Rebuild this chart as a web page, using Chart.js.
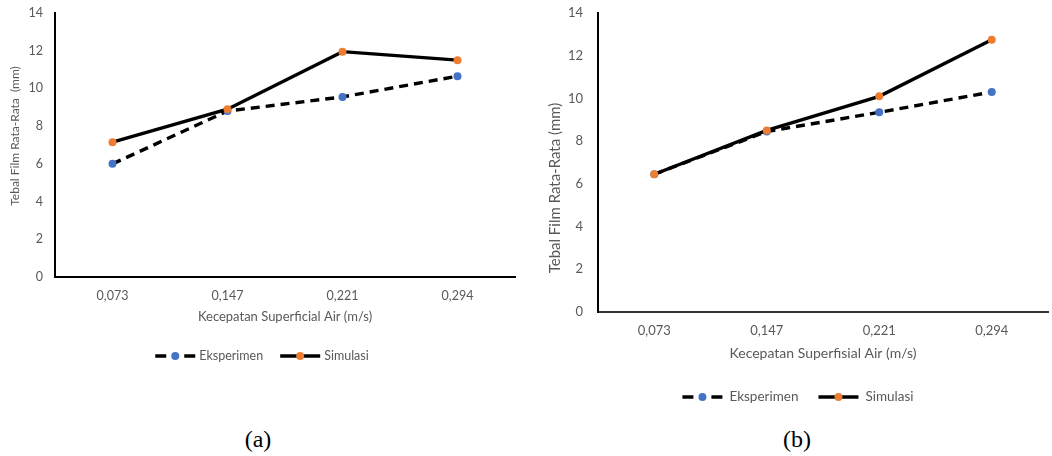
<!DOCTYPE html>
<html>
<head>
<meta charset="utf-8">
<script src="https://cdn.jsdelivr.net/npm/chart.js@4"></script>
<style>
  html, body { margin: 0; padding: 0; background: #fff; width: 1052px; height: 456px; overflow: hidden; }
  .box { position: absolute; }
  #wa { left: 0; top: 0; width: 530px; height: 380px; }
  #wb { left: 540px; top: 0; width: 512px; height: 420px; }
  .cap { position: absolute; font-family: "Liberation Serif", serif; font-size: 24px; color: #000; transform: translateX(-50%); }
</style>
</head>
<body>
<div class="box" id="wa"><canvas id="ca"></canvas></div>
<div class="box" id="wb"><canvas id="cb"></canvas></div>
<div class="cap" style="left:258px; top:426px;">(a)</div>
<div class="cap" style="left:797px; top:426px;">(b)</div>
<script>
// ---- data ----
const categories = ["0,073", "0,147", "0,221", "0,294"];
const seriesNames = ["Eksperimen", "Simulasi"];
const eksperimenA = [6.0, 8.8, 9.55, 10.65];
const simulasiA = [7.15, 8.9, 11.95, 11.5];
const eksperimenB = [6.45, 8.45, 9.35, 10.3];
const simulasiB = [6.45, 8.5, 10.1, 12.75];
const yTicks = [0, 2, 4, 6, 8, 10, 12, 14];
const yTitleA = "Tebal Film Rata-Rata  (mm)";
const yTitleB = "Tebal Film Rata-Rata (mm)";
const xTitleA = "Kecepatan Superficial Air (m/s)";
const xTitleB = "Kecepatan Superfisial Air (m/s)";

const BLUE = "#4472C4", ORANGE = "#ED7D31", GREY = "#595959";
const FONT = "Lato, 'Open Sans', sans-serif";

// legend drawn below the plot, with line+marker icons taken from datasets
const lineLegend = {
  id: "lineLegend",
  afterDraw(chart, args, o) {
    const ctx = chart.ctx;
    ctx.save();
    ctx.font = o.fontSize + "px " + FONT;
    ctx.textBaseline = "middle";
    const items = chart.data.datasets.map(ds => ({ds, w: o.icon + o.iconGap + ctx.measureText(ds.label).width}));
    const total = items.reduce((s, it) => s + it.w, 0) + o.itemGap * (items.length - 1);
    let x = chart.width / 2 - total / 2 + (o.shift || 0);
    const y = o.y;
    items.forEach(it => {
      const ds = it.ds;
      ctx.strokeStyle = ds.borderColor;
      ctx.lineWidth = ds.borderWidth;
      ctx.lineCap = "butt";
      ctx.beginPath();
      if (ds.borderDash && ds.borderDash.length) {
        ctx.moveTo(x, y); ctx.lineTo(x + 11, y);
        ctx.moveTo(x + o.icon - 11, y); ctx.lineTo(x + o.icon, y);
      } else {
        ctx.moveTo(x, y); ctx.lineTo(x + o.icon, y);
      }
      ctx.stroke();
      ctx.fillStyle = ds.pointBackgroundColor;
      ctx.beginPath();
      ctx.arc(x + o.icon / 2, y, ds.pointRadius, 0, Math.PI * 2);
      ctx.fill();
      ctx.fillStyle = GREY;
      ctx.textAlign = "left";
      ctx.fillText(ds.label, x + o.icon + o.iconGap, y);
      x += it.w + o.itemGap;
    });
    ctx.restore();
  }
};

// vertical axis title drawn at a chosen centre
const sideTitle = {
  id: "sideTitle",
  afterDraw(chart, args, o) {
    const ctx = chart.ctx;
    ctx.save();
    ctx.font = o.fontSize + "px " + FONT;
    ctx.fillStyle = GREY;
    ctx.textAlign = "center";
    ctx.textBaseline = "middle";
    ctx.translate(o.x, o.cy);
    ctx.rotate(-Math.PI / 2);
    ctx.fillText(o.text, 0, 0);
    ctx.restore();
  }
};

function makeChart(id, eks, sim, cfg) {
  return new Chart(document.getElementById(id), {
    type: "line",
    data: {
      labels: categories,
      datasets: [
        { label: seriesNames[0], data: eks, borderColor: "#000", borderWidth: 3.4, borderDash: [9, 6],
          pointRadius: 4, pointHoverRadius: 4, pointBackgroundColor: BLUE, pointBorderColor: BLUE, pointBorderWidth: 0,
          tension: 0, order: 1 },
        { label: seriesNames[1], data: sim, borderColor: "#000", borderWidth: 3.4,
          pointRadius: 4, pointHoverRadius: 4, pointBackgroundColor: ORANGE, pointBorderColor: ORANGE, pointBorderWidth: 0,
          tension: 0, order: 0 }
      ]
    },
    options: {
      responsive: true, maintainAspectRatio: false, animation: false,
      events: [],
      layout: { padding: { left: 0, right: cfg.padRight, top: cfg.padTop, bottom: cfg.padBottom } },
      plugins: {
        legend: { display: false }, tooltip: { enabled: false },
        lineLegend: cfg.legend,
        sideTitle: cfg.side
      },
      scales: {
        x: {
          offset: true,
          grid: { display: false, drawTicks: false },
          border: { display: true, color: cfg.xAxisColor, width: 2 },
          ticks: { color: GREY, font: { family: FONT, size: cfg.tickSize }, padding: cfg.xTickPad },
          title: { display: true, text: cfg.xTitle, color: GREY, font: { family: FONT, size: cfg.xTitleSize }, padding: { top: 0, bottom: cfg.xTitlePadBottom } },
          afterFit: s => { s.height = cfg.xAxisH; s.paddingLeft = 0; s.paddingRight = 0; }
        },
        y: {
          min: 0, max: 14,
          afterBuildTicks: s => { s.ticks = yTicks.map(v => ({ value: v })); },
          grid: { display: false, drawTicks: false },
          border: { display: true, color: "#000", width: 2 },
          ticks: { color: GREY, font: { family: FONT, size: cfg.tickSize }, padding: cfg.yTickPad },
          title: { display: false },
          afterFit: s => { s.width = cfg.yAxisW; s.paddingTop = 0; s.paddingBottom = 0; }
        }
      }
    },
    plugins: [lineLegend, sideTitle]
  });
}

makeChart("ca", eksperimenA, simulasiA, {
  padRight: 15, padTop: 13, padBottom: 53, xAxisH: 50, yAxisW: 55,
  tickSize: 12.5, xTitleSize: 13, xTitlePadBottom: 2, xTickPad: 11, yTickPad: 12,
  xTitle: xTitleA, xAxisColor: "#000",
  legend: { y: 356, fontSize: 12.5, icon: 40, iconGap: 4, itemGap: 17, shift: -3 },
  side: { text: yTitleA, x: 15, cy: 136, fontSize: 12 }
});

makeChart("cb", eksperimenB, simulasiB, {
  padRight: 0, padTop: 13, padBottom: 58, xAxisH: 50, yAxisW: 58,
  tickSize: 13, xTitleSize: 14, xTitlePadBottom: 0, xTickPad: 11, yTickPad: 15,
  xTitle: xTitleB, xAxisColor: "#333",
  legend: { y: 397, fontSize: 13.5, icon: 40, iconGap: 7, itemGap: 20, shift: 2 },
  side: { text: yTitleB, x: 15, cy: 188, fontSize: 15 }
});
</script>
</body>
</html>
